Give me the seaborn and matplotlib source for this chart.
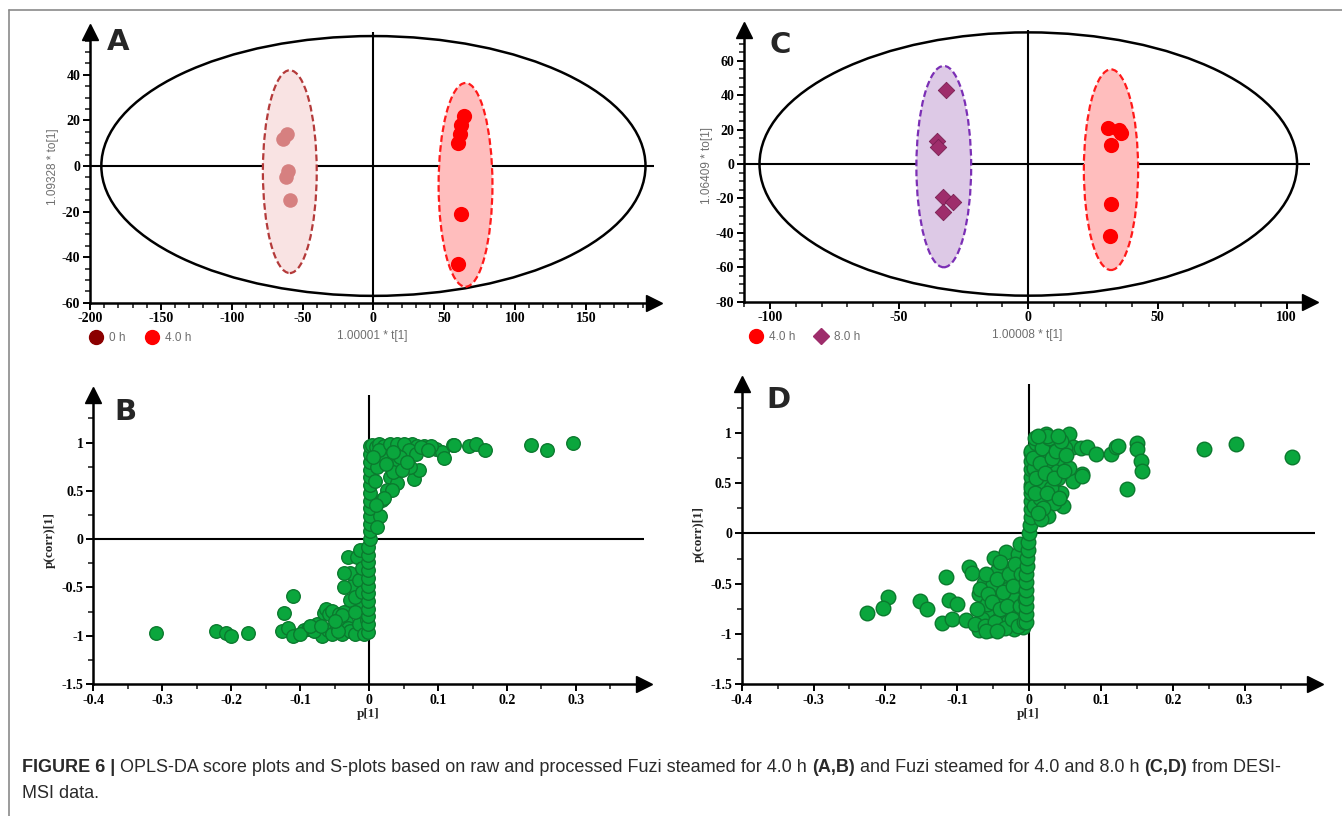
import numpy as np
import matplotlib
matplotlib.use("Agg")
import matplotlib.pyplot as plt
import seaborn as sns
from matplotlib.patches import Ellipse
from matplotlib.lines import Line2D
from matplotlib.ticker import MultipleLocator, FuncFormatter

# === Score plot A (0 h vs 4.0 h) ===
a_0h_x = [-64, -61, -60, -62, -59]
a_0h_y = [12, 14, -2, -5, -15]
a_4h_x = [64, 62, 61, 60, 62, 60]
a_4h_y = [22, 18, 14, 10, -21, -43]
a_hotelling = [192, 57]            # half width, half height
a_ell_0h = [-59, -2.5, 19, 44.5]   # cx, cy, half width, half height
a_ell_4h = [65, -8.3, 19, 44.7]

# === Score plot C (4.0 h vs 8.0 h) ===
c_4h_x = [31, 35, 36, 32, 32, 31.5]
c_4h_y = [21, 20, 18, 11, -23, -42]
c_8h_x = [-32, -35.5, -35, -33, -29, -33]
c_8h_y = [43, 13.5, 10, -19, -22, -28]
c_hotelling = [104, 76.5]
c_ell_8h = [-32.7, -1.5, 10.6, 58.5]
c_ell_4h = [32, -3.3, 10.5, 58.3]

# === S-plot B ===
b_x = [-0.309, -0.222, -0.207, -0.201, -0.175,
       -0.127, -0.124, -0.111, -0.118, -0.110, -0.095, -0.088, -0.076, -0.068, -0.066,
       -0.062, -0.058, -0.059, -0.054, -0.054, -0.047, -0.044, -0.039, -0.037, -0.033,
       -0.030, -0.027, -0.027, -0.039, -0.025, -0.027, -0.037, -0.037, -0.030, -0.017,
       -0.013, -0.020, -0.015, -0.012, -0.020, -0.015, -0.008, -0.003, -0.045, -0.050,
       -0.080, -0.100, -0.085, -0.070, -0.020, -0.010, -0.010,
       -0.002, -0.002, -0.002, -0.002, -0.002, -0.002, -0.002, -0.002, -0.002, -0.002,
       -0.002, -0.002, 0.001, 0.002, 0.002, 0.002, 0.002, 0.002, 0.002, 0.002, 0.002,
       0.002, 0.002, 0.002, 0.002,
       0.004, 0.010, 0.015, 0.021, 0.028, 0.036, 0.045, 0.055, 0.062, 0.070, 0.080,
       0.097, 0.106, 0.109, 0.121, 0.123, 0.145, 0.155, 0.168, 0.235, 0.258, 0.296,
       0.031, 0.043, 0.065, 0.072, 0.060, 0.031, 0.026, 0.019, 0.016, 0.012, 0.041,
       0.033, 0.021, 0.050, 0.020, 0.012, 0.008, 0.010, 0.035, 0.048, 0.025, 0.090,
       0.015, 0.006, 0.030, 0.040, 0.050, 0.058, 0.068, 0.075, 0.085, 0.045, 0.055,
       0.035]
b_y = [-0.97, -0.95, -0.97, -1.00, -0.97,
       -0.95, -0.76, -0.59, -0.92, -1.00, -0.94, -0.93, -0.88, -1.00, -0.76,
       -0.72, -0.77, -0.94, -0.74, -0.98, -0.90, -0.78, -0.98, -0.75, -0.85,
       -0.92, -0.95, -0.63, -0.79, -0.49, -0.35, -0.50, -0.35, -0.18, -0.18,
       -0.11, -0.98, -0.88, -0.70, -0.60, -0.42, -0.98, -0.84, -0.95, -0.85,
       -0.95, -0.98, -0.90, -0.90, -0.75, -0.55, -0.30,
       -0.96, -0.88, -0.80, -0.72, -0.64, -0.56, -0.48, -0.40, -0.32, -0.24,
       -0.16, -0.08, 0.00, 0.08, 0.16, 0.24, 0.32, 0.40, 0.48, 0.56, 0.64,
       0.72, 0.80, 0.88, 0.96,
       0.98, 0.95, 0.99, 0.97, 0.93, 0.98, 0.96, 0.98, 0.99, 0.97, 0.96,
       0.93, 0.90, 0.84, 0.98, 0.98, 0.97, 0.99, 0.92, 0.98, 0.92, 1.00,
       0.83, 0.81, 0.62, 0.72, 0.75, 0.64, 0.51, 0.41, 0.24, 0.13, 0.58,
       0.51, 0.43, 0.88, 0.88, 0.75, 0.60, 0.35, 0.70, 0.72, 0.78, 0.97,
       0.92, 0.85, 0.99, 0.99, 0.99, 0.92, 0.88, 0.95, 0.92, 0.85, 0.80,
       0.90]

# === S-plot D ===
d_x = [-0.225, -0.197, -0.203, -0.152, -0.142, -0.116, -0.121, -0.107, -0.112, -0.100,
       -0.088, -0.084, -0.079, -0.070, -0.067, -0.063, -0.055, -0.049, -0.032, -0.016,
       -0.039, -0.021, -0.009, -0.046, -0.035, -0.026, -0.016, -0.012, -0.053, -0.044,
       -0.070, -0.065, -0.058, -0.050, -0.042, -0.038, -0.030, -0.030, -0.025, -0.020,
       -0.018, -0.010, -0.008, -0.005, -0.060, -0.072, -0.040, -0.012,
       -0.075, -0.068, -0.062, -0.057, -0.052, -0.048, -0.045, -0.041, -0.036, -0.034,
       -0.031, -0.028, -0.024, -0.022, -0.019, -0.015, -0.013, -0.011, -0.007, -0.006,
       -0.060, -0.045,
       -0.004, -0.004, -0.004, -0.004, -0.004, -0.004, -0.004, -0.003, -0.003, -0.002,
       -0.002, 0.000, 0.001, 0.002, 0.002, 0.002, 0.002, 0.002, 0.002, 0.002, 0.002, 0.002,
       0.023, 0.056, 0.061, 0.072, 0.081, 0.093, 0.114, 0.121, 0.124, 0.150,
       0.150, 0.156, 0.157, 0.136, 0.243, 0.288, 0.366, 0.074, 0.061, 0.047,
       0.045, 0.035, 0.026, 0.016, 0.007, 0.012, 0.074, 0.007, 0.002, 0.007,
       0.002, 0.010, 0.018, 0.030, 0.040, 0.050, 0.045, 0.035, 0.025, 0.020,
       0.030, 0.040, 0.015, 0.055, 0.010, 0.020, 0.028, 0.008,
       0.005, 0.008, 0.012, 0.015, 0.018, 0.022, 0.025, 0.028, 0.032, 0.035,
       0.038, 0.042, 0.045, 0.048, 0.052, 0.025, 0.012, 0.040]
d_y = [-0.79, -0.63, -0.74, -0.67, -0.75, -0.43, -0.89, -0.85, -0.66, -0.70,
       -0.86, -0.33, -0.39, -0.96, -0.76, -0.49, -0.96, -0.24, -0.18, -0.20,
       -0.93, -0.95, -0.93, -0.62, -0.46, -0.76, -0.43, -0.62, -0.79, -0.37,
       -0.60, -0.85, -0.70, -0.50, -0.85, -0.68, -0.88, -0.55, -0.35, -0.65,
       -0.85, -0.78, -0.50, -0.30, -0.40, -0.75, -0.28, -0.10,
       -0.90, -0.55, -0.92, -0.60, -0.68, -0.88, -0.45, -0.75, -0.58, -0.94,
       -0.72, -0.40, -0.85, -0.52, -0.30, -0.92, -0.72, -0.40, -0.88, -0.65,
       -0.97, -0.97,
       -0.88, -0.80, -0.72, -0.64, -0.56, -0.48, -0.40, -0.32, -0.24, -0.16,
       -0.08, 0.00, 0.08, 0.16, 0.24, 0.32, 0.40, 0.48, 0.56, 0.64, 0.72, 0.80,
       0.99, 0.99, 0.86, 0.85, 0.86, 0.79, 0.79, 0.86, 0.87, 0.90,
       0.84, 0.72, 0.62, 0.44, 0.84, 0.89, 0.76, 0.59, 0.52, 0.27,
       0.40, 0.30, 0.17, 0.14, 0.64, 0.81, 0.57, 0.27, 0.82, 0.65,
       0.45, 0.90, 0.95, 0.92, 0.88, 0.85, 0.70, 0.62, 0.72, 0.50,
       0.45, 0.55, 0.35, 0.65, 0.55, 0.25, 0.80, 0.95,
       0.75, 0.40, 0.20, 0.70, 0.85, 0.60, 0.40, 0.95, 0.75, 0.55,
       0.82, 0.35, 0.92, 0.62, 0.78, 0.97, 0.97, 0.97]

caption_line1 = [("FIGURE 6 |", "bold"),
                 (" OPLS-DA score plots and S-plots based on raw and processed Fuzi steamed for 4.0 h ", "normal"),
                 ("(A,B)", "bold"),
                 (" and Fuzi steamed for 4.0 and 8.0 h ", "normal"),
                 ("(C,D)", "bold"),
                 (" from DESI-", "normal")]
caption_line2 = "MSI data."

sns.set_style("ticks")
plt.rcParams['font.family'] = ['Liberation Sans', 'DejaVu Sans']
plt.rcParams['axes.unicode_minus'] = False

W, H = 1342, 816
fig = plt.figure(figsize=(W / 100, H / 100), dpi=100)


def px_rect(left, right, bottom, top):
    return [left / W, (H - bottom) / H, (right - left) / W, (bottom - top) / H]


def style_axes(ax, xlim, ylim, xmaj, xmin, ymaj, ymin):
    ax.set_xlim(xlim)
    ax.set_ylim(ylim)
    ax.patch.set_alpha(0)
    for s in ["top", "right"]:
        ax.spines[s].set_visible(False)
    for s in ["left", "bottom"]:
        ax.spines[s].set_linewidth(1.8)
        ax.spines[s].set_color("black")
    ax.xaxis.set_major_locator(MultipleLocator(xmaj))
    ax.xaxis.set_minor_locator(MultipleLocator(xmin))
    ax.yaxis.set_major_locator(MultipleLocator(ymaj))
    ax.yaxis.set_minor_locator(MultipleLocator(ymin))
    fmt = FuncFormatter(lambda v, p: "%g" % round(v, 6))
    ax.xaxis.set_major_formatter(fmt)
    ax.yaxis.set_major_formatter(fmt)
    ax.tick_params(which="major", length=5, width=1.4, direction="out", labelsize=10, pad=2, colors="black")
    ax.tick_params(which="minor", length=3.5, width=1.2, direction="out")
    for lab in ax.get_xticklabels() + ax.get_yticklabels():
        lab.set_fontfamily("Liberation Serif")
        lab.set_fontweight("bold")
    ax.axhline(0, color="black", lw=1.5, zorder=1)
    ax.axvline(0, color="black", lw=1.5, zorder=1)
    ax.plot(1, ylim[0], ">k", transform=ax.get_yaxis_transform(), clip_on=False, ms=11)
    ax.plot(xlim[0], 1, "^k", transform=ax.get_xaxis_transform(), clip_on=False, ms=11)


def group_ellipse(ax, e, face, edge):
    ax.add_patch(Ellipse((e[0], e[1]), 2 * e[2], 2 * e[3], facecolor=face, edgecolor=edge,
                         lw=1.6, ls=(0, (3, 1.5)), zorder=2))


gray = "#6e6e6e"

# ---------- A ----------
axA = fig.add_axes(px_rect(90, 654, 302.7, 31.5))
style_axes(axA, (-200, 198), (-60, 59), 50, 10, 20, 5)
axA.add_patch(Ellipse((0, 0), 2 * a_hotelling[0], 2 * a_hotelling[1], fill=False, ec="black", lw=1.8, zorder=1))
group_ellipse(axA, a_ell_0h, "#f9e3e3", "#b43a3a")
group_ellipse(axA, a_ell_4h, "#ffbdbd", "#ff1a1a")
sns.scatterplot(x=a_0h_x, y=a_0h_y, ax=axA, color="#d68080", s=110, linewidth=0, zorder=3)
sns.scatterplot(x=a_4h_x, y=a_4h_y, ax=axA, color="#ff0000", s=120, linewidth=0, zorder=3)
axA.set_xlabel("1.00001 * t[1]", color=gray, fontsize=8.5, labelpad=3)
axA.set_ylabel("1.09328 * to[1]", color=gray, fontsize=8.5, labelpad=2)
axA.legend(handles=[Line2D([], [], marker="o", ls="", color="#8b0000", ms=10, label="0 h"),
                    Line2D([], [], marker="o", ls="", color="#ff0000", ms=10, label="4.0 h")],
           loc="upper left", bbox_to_anchor=(-0.02, -0.085), ncol=2, frameon=False,
           handletextpad=0.1, columnspacing=1.2, fontsize=8.5, labelcolor=gray, borderpad=0)

# ---------- C ----------
axC = fig.add_axes(px_rect(744, 1310, 301.7, 29.8))
style_axes(axC, (-110, 109), (-80, 78), 50, 10, 20, 5)
axC.add_patch(Ellipse((0, 0), 2 * c_hotelling[0], 2 * c_hotelling[1], fill=False, ec="black", lw=1.8, zorder=1))
group_ellipse(axC, c_ell_8h, "#ddc9e6", "#7b2fb5")
group_ellipse(axC, c_ell_4h, "#ffbdbd", "#ff1a1a")
sns.scatterplot(x=c_8h_x, y=c_8h_y, ax=axC, color="#9e2d6b", marker="D", s=70,
                edgecolor="#7a1f52", linewidth=0.6, zorder=3)
sns.scatterplot(x=c_4h_x, y=c_4h_y, ax=axC, color="#ff0000", s=120, linewidth=0, zorder=3)
axC.set_xlabel("1.00008 * t[1]", color=gray, fontsize=8.5, labelpad=3)
axC.set_ylabel("1.06409 * to[1]", color=gray, fontsize=8.5, labelpad=2)
axC.legend(handles=[Line2D([], [], marker="o", ls="", color="#ff0000", ms=10, label="4.0 h"),
                    Line2D([], [], marker="D", ls="", color="#9e2d6b", ms=8, label="8.0 h")],
           loc="upper left", bbox_to_anchor=(-0.01, -0.085), ncol=2, frameon=False,
           handletextpad=0.1, columnspacing=1.2, fontsize=8.5, labelcolor=gray, borderpad=0)

# ---------- B ----------
green, dgreen = "#0aa63d", "#0b7a2e"
axB = fig.add_axes(px_rect(93.3, 643.5, 684, 395.3))
style_axes(axB, (-0.4, 0.398), (-1.5, 1.49), 0.1, 0.05, 0.5, 0.25)
sns.scatterplot(x=b_x, y=b_y, ax=axB, color=green, edgecolor=dgreen, linewidth=1.0, s=95, zorder=3)
axB.set_xlabel("p[1]", fontfamily="Liberation Serif", fontweight="bold", fontsize=9.5, labelpad=1)
axB.set_ylabel("p(corr)[1]", fontfamily="Liberation Serif", fontweight="bold", fontsize=9.5, labelpad=4)

# ---------- D ----------
axD = fig.add_axes(px_rect(741.7, 1315, 684, 384))
style_axes(axD, (-0.4, 0.398), (-1.5, 1.49), 0.1, 0.05, 0.5, 0.25)
sns.scatterplot(x=d_x, y=d_y, ax=axD, color=green, edgecolor=dgreen, linewidth=1.0, s=110, zorder=3)
axD.set_xlabel("p[1]", fontfamily="Liberation Serif", fontweight="bold", fontsize=9.5, labelpad=1)
axD.set_ylabel("p(corr)[1]", fontfamily="Liberation Serif", fontweight="bold", fontsize=9.5, labelpad=4)

# panel letters
for lab, (x, y) in zip("ACBD", [(118, 42), (780, 45), (125, 412), (778, 400)]):
    fig.text(x / W, 1 - y / H, lab, fontsize=21, fontweight="bold", ha="center", va="center",
             fontfamily="DejaVu Sans")

# outer frame
fig.add_artist(Line2D([9 / W, 1], [1 - 10 / H, 1 - 10 / H], color="#8a8a8a", lw=1.2))
fig.add_artist(Line2D([9 / W, 9 / W], [0, 1 - 10 / H], color="#8a8a8a", lw=1.2))

# caption with mixed weights
renderer = fig.canvas.get_renderer()
cap_size = 10.5
pieces = []
x0 = 22
for txt, wt in caption_line1:
    t = fig.text(x0 / W, 1 - 767 / H, txt, fontsize=cap_size, fontweight=wt, color="#2a2a2a",
                 va="center", ha="left")
    pieces.append(t)
    x0 += t.get_window_extent(renderer).width
scale = (1294 - 22) / (x0 - 22)
x0 = 22
for t in pieces:
    t.set_fontsize(cap_size * scale)
    t.set_x(x0 / W)
    x0 += t.get_window_extent(renderer).width
fig.text(22 / W, 1 - 793 / H, caption_line2, fontsize=cap_size * scale, color="#2a2a2a", va="center", ha="left")

fig.savefig("out.png", dpi=100)
